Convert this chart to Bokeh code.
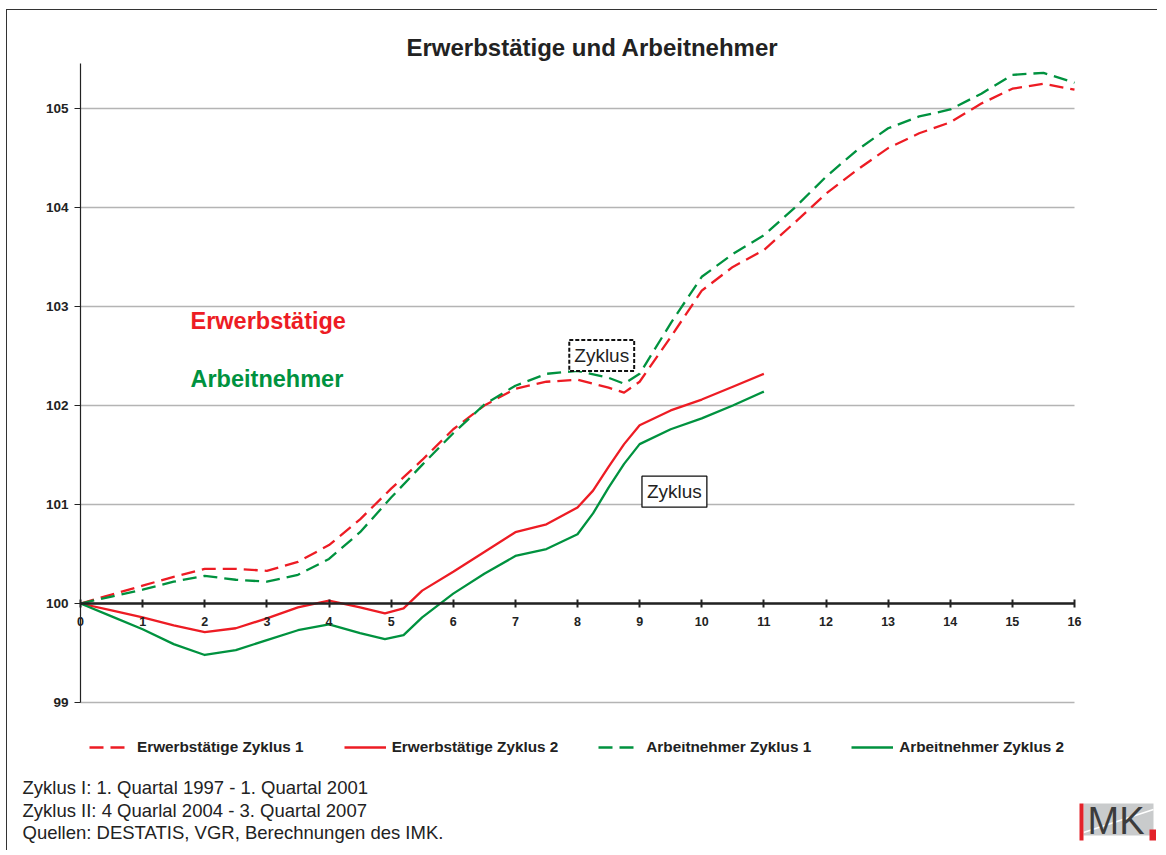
from bokeh.plotting import figure
from bokeh.models import Range1d, FixedTicker, Label, Legend, LegendItem
from bokeh.embed import file_html
from bokeh.resources import INLINE

# ---------------- data ----------------
x_zyklus1 = [0, 0.5, 1, 1.5, 2, 2.5, 3, 3.5, 4, 4.5, 5, 5.5, 6, 6.5, 7, 7.5, 8, 8.5, 8.75,
             9, 9.5, 10, 10.5, 11, 11.5, 12, 12.5, 13, 13.5, 14, 14.5, 15, 15.5, 16]
erwerb_z1 = [100.00, 100.09, 100.18, 100.27, 100.35, 100.35, 100.33, 100.42, 100.59, 100.85,
             101.16, 101.45, 101.76, 102.00, 102.17, 102.24, 102.26, 102.18, 102.13,
             102.24, 102.69, 103.16, 103.40, 103.57, 103.85, 104.14, 104.38, 104.60, 104.75,
             104.86, 105.05, 105.20, 105.25, 105.19]
arbeit_z1 = [100.00, 100.07, 100.14, 100.22, 100.28, 100.24, 100.22, 100.29, 100.45, 100.72,
             101.07, 101.40, 101.72, 102.01, 102.20, 102.32, 102.35, 102.28, 102.22,
             102.32, 102.83, 103.30, 103.53, 103.72, 104.00, 104.31, 104.58, 104.80, 104.92,
             104.99, 105.15, 105.34, 105.36, 105.26]

x_zyklus2 = [0, 0.5, 1, 1.5, 2, 2.5, 3, 3.5, 4, 4.5, 4.9, 5.2, 5.5, 6, 6.5, 7, 7.5, 8,
             8.25, 8.5, 8.75, 9, 9.5, 10, 10.5, 11]
erwerb_z2 = [100.00, 99.93, 99.86, 99.78, 99.71, 99.75, 99.85, 99.96, 100.03, 99.96, 99.90,
             99.95, 100.13, 100.32, 100.52, 100.72, 100.80, 100.97, 101.14, 101.38, 101.61,
             101.80, 101.95, 102.06, 102.19, 102.32]
arbeit_z2 = [100.00, 99.87, 99.74, 99.59, 99.48, 99.53, 99.63, 99.73, 99.79, 99.70, 99.64,
             99.68, 99.86, 100.10, 100.30, 100.48, 100.55, 100.70, 100.91, 101.17, 101.41,
             101.61, 101.76, 101.87, 102.00, 102.14]

x_ticks = list(range(0, 17))
y_ticks = [99, 100, 101, 102, 103, 104, 105]

series_names = ["Erwerbstätige Zyklus 1", "Erwerbstätige Zyklus 2",
                "Arbeitnehmer Zyklus 1", "Arbeitnehmer Zyklus 2"]

title_text = "Erwerbstätige und Arbeitnehmer"
footer_lines = ["Zyklus I: 1. Quartal 1997 - 1. Quartal 2001",
                "Zyklus II: 4 Quarlal 2004 - 3. Quartal 2007",
                "Quellen: DESTATIS, VGR, Berechnungen des IMK."]

# ---------------- style ----------------
FONT = "Liberation Sans"
RED = "#ED1C24"
GREEN = "#00923F"
TXT = "#222222"
DASH = "14 7"
LW = 2.3

PX_X = 62.125      # px per quarter
PX_Y = 99.0        # px per index point
LEFT_PAD = 37      # px of frame left of x=0
RIGHT_PAD = 12     # px of frame right of x=16
TOP_PAD = 573      # px from frame top to y=100
BOT_PAD = 109      # px from y=100 to frame bottom

p = figure(frame_width=1043, frame_height=682, output_backend="svg", toolbar_location=None,
           x_range=Range1d(-LEFT_PAD / PX_X, 16 + RIGHT_PAD / PX_X),
           y_range=Range1d(100 - BOT_PAD / PX_Y, 100 + TOP_PAD / PX_Y),
           min_border_left=36, min_border_right=71, min_border_top=20, min_border_bottom=30,
           styles={"margin-left": "6px", "margin-top": "9px",
                   "border-left": "1px solid #333333", "border-top": "1px solid #333333"})
p.outline_line_color = None
p.xgrid.visible = False
p.ygrid.visible = False

# horizontal gridlines between x=0 and x=16 at the y ticks
p.segment(x0=[x_ticks[0]] * len(y_ticks), x1=[x_ticks[-1]] * len(y_ticks), y0=y_ticks, y1=y_ticks,
          line_color="#b4b4b4", line_width=1.3)

# axes
p.xaxis.fixed_location = 100
p.xaxis.bounds = (x_ticks[0], x_ticks[-1])
p.xaxis.ticker = FixedTicker(ticks=x_ticks)
p.xaxis.minor_tick_line_color = None
p.xaxis.axis_line_color = "#222222"
p.xaxis.axis_line_width = 2.5
p.xaxis.major_tick_line_color = "#222222"
p.xaxis.major_tick_line_width = 2
p.xaxis.major_tick_in = 4
p.xaxis.major_tick_out = 4
p.xaxis.major_label_standoff = 9
p.xaxis.major_label_text_font = FONT
p.xaxis.major_label_text_font_style = "bold"
p.xaxis.major_label_text_font_size = "12.5px"
p.xaxis.major_label_text_color = TXT

p.yaxis.fixed_location = 0
p.yaxis.bounds = (99, 105.45)
p.yaxis.ticker = FixedTicker(ticks=y_ticks)
p.yaxis.minor_tick_line_color = None
p.yaxis.axis_line_color = "#222222"
p.yaxis.axis_line_width = 1.2
p.yaxis.major_tick_line_color = "#222222"
p.yaxis.major_tick_in = 0
p.yaxis.major_tick_out = 6
p.yaxis.major_label_standoff = 6
p.yaxis.major_label_text_font = FONT
p.yaxis.major_label_text_font_style = "bold"
p.yaxis.major_label_text_font_size = "13.5px"
p.yaxis.major_label_text_color = TXT

# lines
p.line(x_zyklus1, erwerb_z1, line_color=RED, line_width=LW, line_dash=DASH, line_join="round")
p.line(x_zyklus2, erwerb_z2, line_color=RED, line_width=LW, line_join="round")
p.line(x_zyklus1, arbeit_z1, line_color=GREEN, line_width=LW, line_dash=DASH, line_join="round")
p.line(x_zyklus2, arbeit_z2, line_color=GREEN, line_width=LW, line_join="round")

# title and in-chart labels (screen units from frame bottom-left)
p.add_layout(Label(x=549, y=665, x_units="screen", y_units="screen", text=title_text,
                   text_align="center", text_baseline="middle", text_font=FONT,
                   text_font_style="bold", text_font_size="24px", text_color=TXT))
p.add_layout(Label(x=147, y=392, x_units="screen", y_units="screen", text="Erwerbstätige",
                   text_align="left", text_baseline="middle", text_font=FONT,
                   text_font_style="bold", text_font_size="23.5px", text_color=RED))
p.add_layout(Label(x=147, y=334, x_units="screen", y_units="screen", text="Arbeitnehmer",
                   text_align="left", text_baseline="middle", text_font=FONT,
                   text_font_style="bold", text_font_size="23.5px", text_color=GREEN))

p.add_layout(Label(x=8.39, y=102.505, text="Zyklus", text_align="center", text_baseline="middle",
                   text_font=FONT, text_font_size="19px", text_color=TXT,
                   background_fill_color="white", border_line_color="#111111",
                   border_line_width=2, border_line_dash="4 2", padding=5))
p.add_layout(Label(x=9.56, y=101.13, text="Zyklus", text_align="center", text_baseline="middle",
                   text_font=FONT, text_font_size="19px", text_color=TXT,
                   background_fill_color="white", border_line_color="#111111",
                   border_line_width=1.3, padding=5))

# ---------------- footer figure: legend, notes, logo ----------------
QW, QH = 1150, 108
q = figure(width=QW, height=QH, output_backend="svg", toolbar_location=None,
           x_range=Range1d(0, QW), y_range=Range1d(0, QH),
           x_axis_location=None, y_axis_location=None,
           min_border_left=0, min_border_right=0, min_border_top=0, min_border_bottom=0,
           styles={"margin-left": "6px", "border-left": "1px solid #333333"})
q.outline_line_color = None
q.xgrid.visible = False
q.ygrid.visible = False

line_styles = [dict(line_color=RED, line_dash=DASH), dict(line_color=RED),
               dict(line_color=GREEN, line_dash=DASH), dict(line_color=GREEN)]
# stand-in renderers (outside the visible area) that carry the legend styles
legend_renderers = [q.line([-20, -10], [-20, -20], line_width=LW, **s) for s in line_styles]

legend = Legend(items=[LegendItem(label=n, renderers=[r]) for n, r in zip(series_names, legend_renderers)],
                orientation="horizontal", location=(82, 93),
                glyph_width=42, glyph_height=20, label_standoff=6, spacing=40,
                padding=0, margin=0, border_line_color=None, background_fill_alpha=0,
                label_text_font=FONT, label_text_font_style="bold",
                label_text_font_size="15.3px", label_text_color=TXT, label_height=20)
q.add_layout(legend)

for i, line in enumerate(footer_lines):
    q.add_layout(Label(x=15, y=63 - 22.5 * i, text=line,
                       text_align="left", text_baseline="middle", text_font=FONT,
                       text_font_size="18.5px", text_color=TXT))

# IMK logo
q.quad(left=[1076], right=[1146], bottom=[15], top=[47], fill_color="#c9cbcc", line_color=None)
q.segment(x0=[1076], y0=[18], x1=[1146], y1=[41], line_color="white", line_width=1.5)
q.quad(left=[1072], right=[1076], bottom=[10], top=[47], fill_color="#E3222A", line_color=None)
q.quad(left=[1142], right=[1150], bottom=[10], top=[21], fill_color="#E3222A", line_color=None)
q.add_layout(Label(x=1080, y=30, text="MK", text_align="left", text_baseline="middle",
                   text_font=FONT, text_font_size="38px", text_color="#3c3c3c"))

open("out.html", "w").write(file_html([p, q], INLINE))
